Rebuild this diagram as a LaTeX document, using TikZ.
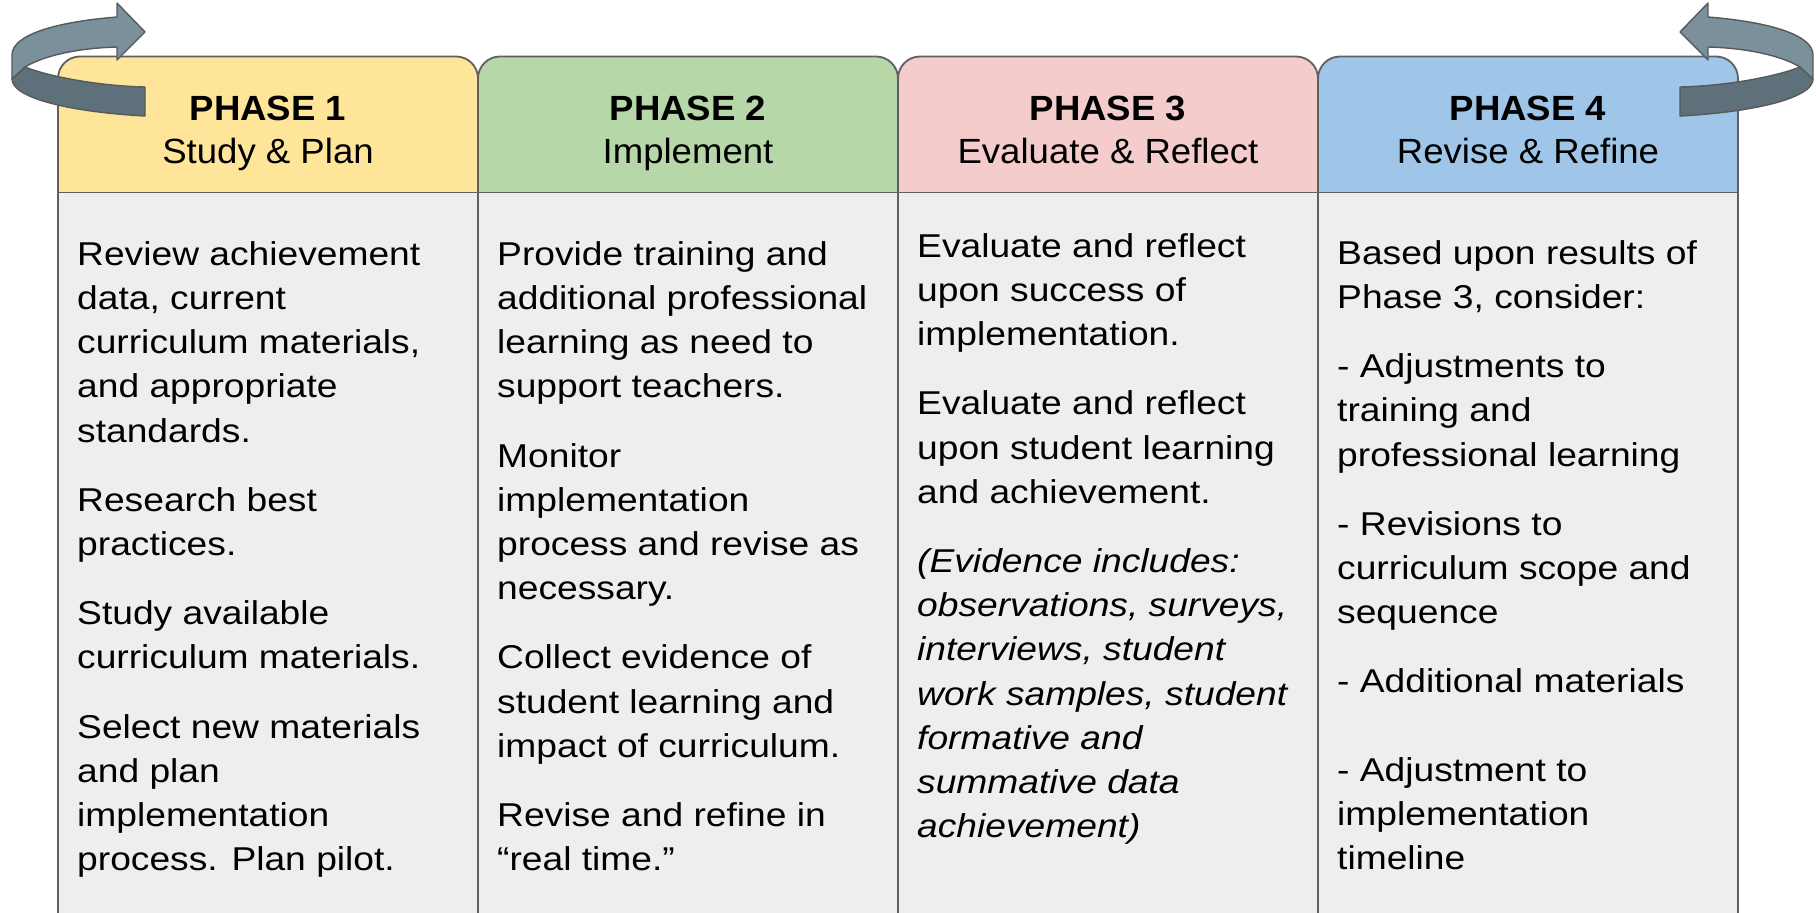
\documentclass[tikz,border=0pt]{standalone}
\usepackage{fontspec}
\setmainfont{Liberation Sans}
\newfontfamily\bodyfont{Liberation Sans}[FakeStretch=1.127]
\newfontfamily\headfont{Liberation Sans}[FakeStretch=1.045]
\definecolor{hdrA}{HTML}{FFE599}
\definecolor{hdrB}{HTML}{B6D7A8}
\definecolor{hdrC}{HTML}{F4CCCC}
\definecolor{hdrD}{HTML}{9FC5E8}
\definecolor{bodyC}{HTML}{EEEEEE}
\definecolor{lineC}{HTML}{5F5F5F}
\definecolor{arrL}{HTML}{7A909B}
\definecolor{arrD}{HTML}{5E707A}
\definecolor{arrO}{HTML}{595959}
\begin{document}
\begin{tikzpicture}[x=1pt,y=-1pt,
  border/.style={draw=lineC, line width=1.8pt},
  hdrtitle/.style={anchor=base, inner sep=0pt, font=\headfont\fontsize{35}{43}\selectfont\bfseries},
  hdrsub/.style={anchor=base, inner sep=0pt, font=\headfont\fontsize{35}{43}\selectfont},
  bodytext/.style={anchor=north west, inner sep=0pt, align=left, font=\bodyfont\fontsize{33}{44.2}\selectfont},
  arrowlight/.style={fill=arrL, draw=arrO, line width=1.4pt, line join=round},
  arrowdark/.style={fill=arrD, draw=arrO, line width=1.4pt, line join=round}]
\useasboundingbox (0,0) rectangle (1816,913);
\clip (0,0) rectangle (1816,913);
\fill[white] (0,0) rectangle (1816,913);

% columns
\foreach \L/\R/\C in {58/478/hdrA, 478/898/hdrB, 898/1318/hdrC, 1318/1738/hdrD}{
  \fill[\C, rounded corners=22pt] (\L,56.5) rectangle (\R,192.5);
  \fill[\C] (\L,120) rectangle (\R,192.5);
  \fill[bodyC] (\L,192.5) rectangle (\R,940);
  \draw[border, rounded corners=22pt] (\L,940) -- (\L,56.5) -- (\R,56.5) -- (\R,940);
  \draw[border] (\L,192.5) -- (\R,192.5);
}

% headers
\node[hdrtitle] (h1t) at (268,120) {PHASE 1};
\node[hdrsub]   (h1s) at (268,163.3) {Study \& Plan};
\node[hdrtitle] (h2t) at (688,120) {PHASE 2};
\node[hdrsub]   (h2s) at (688,163.3) {Implement};
\node[hdrtitle] (h3t) at (1108,120) {PHASE 3};
\node[hdrsub]   (h3s) at (1108,163.3) {Evaluate \& Reflect};
\node[hdrtitle] (h4t) at (1528,120) {PHASE 4};
\node[hdrsub]   (h4s) at (1528,163.3) {Revise \& Refine};

% bodies
\node[bodytext] (b1) at (77,234.06) {\strut Review achievement\\
data, current\\
curriculum materials,\\
and appropriate\\
standards.\\[25pt]
Research best\\
practices.\\[25pt]
Study available\\
curriculum materials.\\[25pt]
Select new materials\\
and plan\\
implementation\\
process. Plan pilot.};

\node[bodytext] (b2) at (497,234.06) {\strut Provide training and\\
additional professional\\
learning as need to\\
support teachers.\\[25pt]
Monitor\\
implementation\\
process and revise as\\
necessary.\\[25pt]
Collect evidence of\\
student learning and\\
impact of curriculum.\\[25pt]
Revise and refine in\\
“real time.”};

\node[bodytext] (b3) at (917,226.06) {\strut Evaluate and reflect\\
upon success of\\
implementation.\\[25pt]
Evaluate and reflect\\
upon student learning\\
and achievement.\\[25pt]
\textit{(Evidence includes:}\\
\textit{observations, surveys,}\\
\textit{interviews, student}\\
\textit{work samples, student}\\
\textit{formative and}\\
\textit{summative data}\\
\textit{achievement)}};

\node[bodytext] (b4) at (1337,233.06) {\strut Based upon results of\\
Phase 3, consider:\\[25pt]
- Adjustments to\\
training and\\
professional learning\\[25pt]
- Revisions to\\
curriculum scope and\\
sequence\\[25pt]
- Additional materials\\[44pt]
- Adjustment to\\
implementation\\
timeline};

% left cycle arrow
\draw[arrowdark] (25,67) .. controls (50,77) and (100,86) .. (145,87)
  -- (145,116) .. controls (70,112) and (12,98) .. (12,79) -- cycle;
\draw[arrowlight] (117,17) .. controls (55,22) and (12,35) .. (12,55)
  -- (12,79) -- (25,67) .. controls (45,55) and (80,48) .. (117,47)
  -- (117,60) -- (145,32) -- (117,3) -- cycle;

% right cycle arrow (mirror)
\begin{scope}[xshift=1825pt, xscale=-1]
\draw[arrowdark] (25,67) .. controls (50,77) and (100,86) .. (145,87)
  -- (145,116) .. controls (70,112) and (12,98) .. (12,79) -- cycle;
\draw[arrowlight] (117,17) .. controls (55,22) and (12,35) .. (12,55)
  -- (12,79) -- (25,67) .. controls (45,55) and (80,48) .. (117,47)
  -- (117,60) -- (145,32) -- (117,3) -- cycle;
\end{scope}
\end{tikzpicture}
\end{document}
